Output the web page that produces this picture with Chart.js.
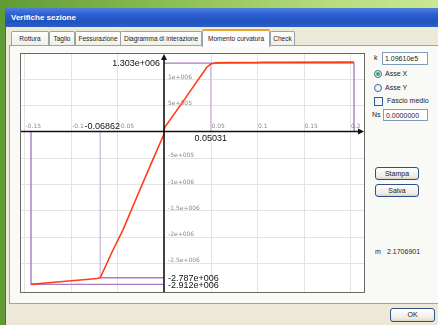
<!DOCTYPE html>
<html>
<head>
<meta charset="utf-8">
<script src="https://cdn.jsdelivr.net/npm/chart.js@4.4.1/dist/chart.umd.min.js"></script>
<style>
  html,body{margin:0;padding:0;}
  body{width:438px;height:325px;overflow:hidden;position:relative;
       background:linear-gradient(90deg,#5f9a34 0px,#8cc052 40%,#b6dc7c 75%,#c9e892 100%);
       font-family:"Liberation Sans","DejaVu Sans",sans-serif;}
  .abs{position:absolute;}
  #win{left:5px;top:8px;width:440px;height:320px;background:#ece9d8;border-left:1px solid #3b5fa8;}
  #title{left:5px;top:8px;width:440px;height:19px;
         background:linear-gradient(180deg,#4d7fe0 0%,#2c5fcf 35%,#2153c0 70%,#2a5ec6 100%);
         color:#fff;font-weight:bold;font-size:8px;line-height:19px;}
  #title span{margin-left:6px;}
  .tab{top:31px;height:13px;border:1px solid #9aa3a8;border-bottom:none;
       background:linear-gradient(180deg,#fefefe,#f0efe8);font-size:6.5px;line-height:13px;
       text-align:center;color:#222;border-radius:2px 2px 0 0;white-space:nowrap;overflow:hidden;}
  .tab.act{top:29px;height:16px;background:#fcfcfe;border-top:2px solid #e8a23a;z-index:3;line-height:15px;}
  #panel{left:9px;top:45px;width:440px;height:257px;border:1px solid #9aa3a8;background:#f9f9f6;}
  #plotbox{left:20px;top:53px;width:343px;height:238px;border:1px solid #6a6a6a;background:#fff;}
  #plotbox canvas{display:block;}
  .lbl{font-size:7px;color:#222;white-space:nowrap;}
  .tbox{background:#fff;border:1px solid #7f9db9;font-size:7px;line-height:11px;padding-left:2px;color:#222;box-sizing:border-box;}
  .btn{border:1px solid #2f4f86;border-radius:3px;background:linear-gradient(180deg,#ffffff,#ecebe3 80%,#d8d4c4);
       font-size:7px;text-align:center;color:#222;box-sizing:border-box;}
  .radio{width:8px;height:8px;border-radius:50%;border:1px solid #3c6aa8;background:#f4f4f0;box-sizing:border-box;}
  .chk{width:9px;height:9px;border:1px solid #2d5aa0;background:#f6f6f2;box-sizing:border-box;}
</style>
</head>
<body>
<div id="win" class="abs"></div>
<div id="title" class="abs"><span>Verifiche sezione</span></div>

<div id="panel" class="abs"></div>
<div class="abs tab" style="left:11px;width:36px;">Rottura</div>
<div class="abs tab" style="left:49px;width:24px;">Taglio</div>
<div class="abs tab" style="left:75px;width:44px;">Fessurazione</div>
<div class="abs tab" style="left:120px;width:80px;">Diagramma di interazione</div>
<div class="abs tab act" style="left:202px;width:66px;">Momento curvatura</div>
<div class="abs tab" style="left:270px;width:23px;">Check</div>

<div id="plotbox" class="abs"><canvas id="c" width="343" height="238"></canvas></div>

<div class="abs lbl" style="left:374px;top:54px;">k</div>
<div class="abs tbox" style="left:382px;top:52px;width:46px;height:13px;">1.09610e5</div>
<div class="abs radio" style="left:374px;top:70px;"><div style="width:4px;height:4px;border-radius:50%;background:#35b33a;margin:1px;"></div></div>
<div class="abs lbl" style="left:385px;top:70px;">Asse X</div>
<div class="abs radio" style="left:374px;top:84px;"></div>
<div class="abs lbl" style="left:385px;top:84px;">Asse Y</div>
<div class="abs chk" style="left:374px;top:97px;"></div>
<div class="abs lbl" style="left:387px;top:97px;">Fascio medio</div>
<div class="abs lbl" style="left:372px;top:111px;">Ns</div>
<div class="abs tbox" style="left:383px;top:109px;width:45px;height:12px;">0.0000000</div>
<div class="abs btn" style="left:375px;top:167px;width:44px;height:13px;line-height:11px;">Stampa</div>
<div class="abs btn" style="left:375px;top:184px;width:44px;height:13px;line-height:11px;">Salva</div>
<div class="abs lbl" style="left:375px;top:248px;">m</div>
<div class="abs lbl" style="left:387px;top:248px;">2.1706901</div>
<div class="abs btn" style="left:390px;top:308px;width:45px;height:14px;line-height:12px;">OK</div>

<script>
// ---- data (curvature, moment) ----
const curvature = [-0.1430, -0.1180, -0.0900, -0.0720, -0.06862, -0.0640, -0.0560, -0.0440, -0.0300, -0.0172, -0.0008, 0.0000, 0.0008, 0.0200, 0.0460, 0.0503, 0.0560, 0.0700, 0.1000, 0.1050, 0.2043];
const moment    = [-2.912e6, -2.872e6, -2.830e6, -2.800e6, -2.787e6, -2.610e6, -2.300e6, -1.870e6, -1.280e6, -0.750e6, -0.080e6, 0, 0.080e6, 0.560e6, 1.225e6, 1.285e6, 1.308e6, 1.312e6, 1.314e6, 1.320e6, 1.322e6];

// reference (purple) lines
const yieldCurv = 0.05031, yieldMoment = 1.303e6, maxCurvPos = 0.2043;
const crackCurvNeg = -0.06862, crackMomentNeg = -2.787e6;
const maxCurvNeg = -0.1430, maxMomentNeg = -2.912e6;

// axes ticks
const xTickValues = [-0.15, -0.1, -0.05, 0.05, 0.1, 0.15, 0.2];
const xTickLabels = ["-0.15", "-0.1", "-0.05", "0.05", "0.1", "0.15", "0.2"];
const yTickValues = [1e6, 5e5, -5e5, -1e6, -1.5e6, -2e6, -2.5e6];
const yTickLabels = ["1e+006", "5e+005", "-5e+005", "-1e+006", "-1.5e+006", "-2e+006", "-2.5e+006"];

const annotations = [
  {x: 0, y: yieldMoment, text: "1.303e+006", pos: "left"},
  {x: crackCurvNeg, y: 0, text: "-0.06862", pos: "above"},
  {x: yieldCurv, y: 0, text: "0.05031", pos: "below"},
  {x: 0, y: crackMomentNeg, text: "-2.787e+006", pos: "right"},
  {x: 0, y: maxMomentNeg, text: "-2.912e+006", pos: "right"}
];

const pts = (xs, ys) => xs.map((v, i) => ({x: v, y: ys[i]}));
const purple = '#a87cc6', lightPurple = '#cdb3df';

const axesPlugin = {
  id: 'mcAxes',
  beforeDatasetsDraw(chart) {
    const {ctx, chartArea: a, scales: {x, y}} = chart;
    ctx.save();
    ctx.strokeStyle = '#e3e3e3'; ctx.lineWidth = 1;
    xTickValues.forEach(v => { const p = Math.round(x.getPixelForValue(v)) + 0.5;
      ctx.beginPath(); ctx.moveTo(p, a.top); ctx.lineTo(p, a.bottom); ctx.stroke(); });
    yTickValues.forEach(v => { const p = Math.round(y.getPixelForValue(v)) + 0.5;
      ctx.beginPath(); ctx.moveTo(a.left, p); ctx.lineTo(a.right, p); ctx.stroke(); });
    ctx.restore();
  },
  afterDatasetsDraw(chart) {
    const {ctx, chartArea: a, scales: {x, y}} = chart;
    const x0 = x.getPixelForValue(0), y0 = y.getPixelForValue(0);
    ctx.save();
    // axes
    ctx.strokeStyle = '#111'; ctx.lineWidth = 1.6;
    ctx.beginPath(); ctx.moveTo(a.left, y0); ctx.lineTo(a.right - 2, y0); ctx.stroke();
    ctx.beginPath(); ctx.moveTo(x0, a.bottom); ctx.lineTo(x0, a.top + 2); ctx.stroke();
    ctx.fillStyle = '#111';
    ctx.beginPath(); ctx.moveTo(x0, a.top); ctx.lineTo(x0 - 3, a.top + 6); ctx.lineTo(x0 + 3, a.top + 6); ctx.closePath(); ctx.fill();
    ctx.beginPath(); ctx.moveTo(a.right, y0); ctx.lineTo(a.right - 6, y0 - 3); ctx.lineTo(a.right - 6, y0 + 3); ctx.closePath(); ctx.fill();
    // tick labels
    ctx.fillStyle = '#8a8a8a'; ctx.font = '6px "DejaVu Sans"';
    ctx.textAlign = 'left'; ctx.textBaseline = 'alphabetic';
    xTickValues.forEach((v, i) => ctx.fillText(xTickLabels[i], x.getPixelForValue(v) + 1, y0 - 4));
    ctx.textBaseline = 'middle';
    yTickValues.forEach((v, i) => ctx.fillText(yTickLabels[i], x0 + 4, y.getPixelForValue(v) - 2));
    // annotations
    ctx.fillStyle = '#111'; ctx.font = '9px "Liberation Sans"';
    annotations.forEach(an => {
      const px = x.getPixelForValue(an.x), py = y.getPixelForValue(an.y);
      if (an.pos === 'left') { ctx.textAlign = 'right'; ctx.textBaseline = 'middle'; ctx.fillText(an.text, px - 4, py); }
      else if (an.pos === 'above') { ctx.textAlign = 'center'; ctx.textBaseline = 'alphabetic'; ctx.fillText(an.text, px + 2, py - 3); }
      else if (an.pos === 'below') { ctx.textAlign = 'center'; ctx.textBaseline = 'top'; ctx.fillText(an.text, px, py + 3); }
      else { ctx.textAlign = 'left'; ctx.textBaseline = 'middle'; ctx.fillText(an.text, px + 4, py + 1); }
    });
    ctx.restore();
  }
};

new Chart(document.getElementById('c'), {
  type: 'scatter',
  data: {
    datasets: [
      {data: pts(curvature, moment), showLine: true, borderColor: '#ff3c18', borderWidth: 1.6, pointRadius: 0, tension: 0, order: 0},
      {data: pts([0, maxCurvPos, maxCurvPos], [yieldMoment, yieldMoment, 0]), showLine: true, borderColor: purple, borderWidth: 1.4, pointRadius: 0, order: 1},
      {data: pts([yieldCurv, yieldCurv], [yieldMoment, 0]), showLine: true, borderColor: lightPurple, borderWidth: 1.2, pointRadius: 0, order: 2},
      {data: pts([crackCurvNeg, crackCurvNeg], [0, crackMomentNeg]), showLine: true, borderColor: lightPurple, borderWidth: 1.2, pointRadius: 0, order: 2},
      {data: pts([crackCurvNeg, 0], [crackMomentNeg, crackMomentNeg]), showLine: true, borderColor: purple, borderWidth: 1.4, pointRadius: 0, order: 1},
      {data: pts([maxCurvNeg, maxCurvNeg, 0], [0, maxMomentNeg, maxMomentNeg]), showLine: true, borderColor: purple, borderWidth: 1.4, pointRadius: 0, order: 1}
    ]
  },
  options: {
    responsive: false, animation: false, devicePixelRatio: 1,
    layout: {padding: 0},
    plugins: {legend: {display: false}, tooltip: {enabled: false}},
    scales: {
      x: {type: 'linear', display: false, min: -0.15376, max: 0.21505},
      y: {type: 'linear', display: false, min: -3.0571e6, max: 1.4762e6}
    }
  },
  plugins: [axesPlugin]
});
</script>
</body>
</html>
